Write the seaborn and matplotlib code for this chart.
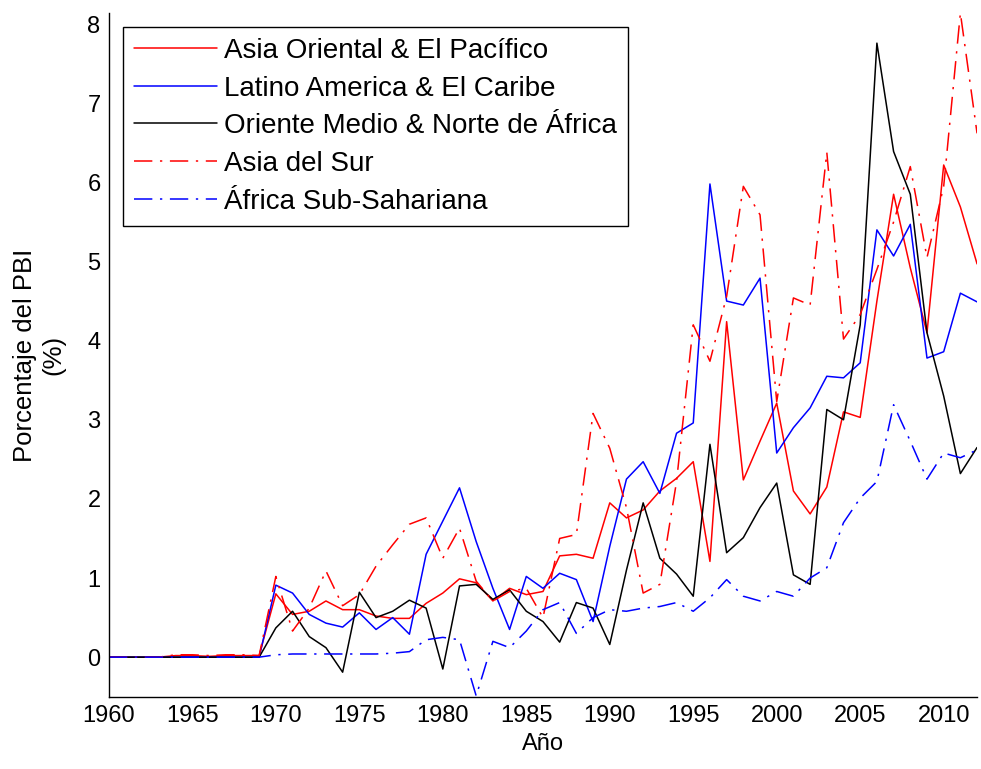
import numpy as np
import pandas as pd
import seaborn as sns
import matplotlib.pyplot as plt

sns.set_theme(style="white")
plt.rcParams['font.family'] = ['Liberation Sans', 'DejaVu Sans']
plt.rcParams['text.color'] = 'black'
plt.rcParams['axes.labelcolor'] = 'black'
plt.rcParams['xtick.color'] = 'black'
plt.rcParams['ytick.color'] = 'black'

years = list(range(1960, 2013))
regions = ['Asia Oriental & El Pacífico', 'Latino America & El Caribe',
           'Oriente Medio & Norte de África', 'Asia del Sur', 'África Sub-Sahariana']

asia_oriental = [0.0, 0.0, 0.0, 0.0, 0.02, 0.02, 0.01, 0.02, 0.02, 0.02,
                 0.8, 0.54, 0.58, 0.71, 0.6, 0.6, 0.52, 0.49, 0.49, 0.68,
                 0.81, 0.99, 0.94, 0.71, 0.87, 0.79, 0.83, 1.28, 1.3, 1.25,
                 1.95, 1.76, 1.86, 2.1, 2.26, 2.47, 1.21, 4.24, 2.24, 2.73,
                 3.21, 2.1, 1.81, 2.15, 3.1, 3.03, 4.5, 5.85, 4.92, 4.1,
                 6.22, 5.69, 4.97]
latino_america = [0.0, 0.0, 0.0, 0.0, 0.0, 0.0, 0.0, 0.0, 0.0, 0.0,
                  0.91, 0.81, 0.54, 0.43, 0.38, 0.56, 0.35, 0.5, 0.29, 1.3,
                  1.72, 2.14, 1.46, 0.87, 0.35, 1.02, 0.87, 1.06, 0.98, 0.45,
                  1.4, 2.25, 2.47, 2.07, 2.83, 2.96, 5.98, 4.5, 4.45, 4.79,
                  2.58, 2.9, 3.15, 3.55, 3.53, 3.72, 5.4, 5.07, 5.47, 3.78,
                  3.86, 4.6, 4.49]
oriente_medio = [0.0, 0.0, 0.0, 0.0, 0.0, 0.0, 0.0, 0.0, 0.0, 0.0,
                 0.37, 0.58, 0.26, 0.12, -0.19, 0.82, 0.5, 0.58, 0.72, 0.62,
                 -0.15, 0.9, 0.92, 0.73, 0.85, 0.58, 0.45, 0.19, 0.69, 0.62,
                 0.16, 1.1, 1.95, 1.25, 1.05, 0.77, 2.69, 1.32, 1.51, 1.89,
                 2.2, 1.04, 0.92, 3.13, 3.0, 4.2, 7.76, 6.39, 5.85, 4.1,
                 3.3, 2.32, 2.65]
asia_sur = [0.0, 0.0, 0.0, 0.0, 0.03, 0.03, 0.02, 0.03, 0.03, 0.02,
            1.02, 0.33, 0.62, 1.09, 0.65, 0.79, 1.15, 1.42, 1.68, 1.76,
            1.25, 1.63, 0.96, 0.71, 0.83, 0.87, 0.5, 1.5, 1.55, 3.08,
            2.64, 1.89, 0.81, 0.92, 2.22, 4.2, 3.74, 4.56, 5.95, 5.59,
            3.23, 4.54, 4.45, 6.38, 4.02, 4.33, 4.9, 5.5, 6.2, 5.05,
            5.95, 8.14, 6.62]
africa_sub = [0.0, 0.0, 0.0, 0.0, 0.0, 0.0, 0.0, 0.0, 0.0, 0.0,
              0.03, 0.04, 0.04, 0.04, 0.04, 0.04, 0.04, 0.05, 0.07, 0.22,
              0.25, 0.22, -0.49, 0.2, 0.12, 0.33, 0.6, 0.69, 0.3, 0.5,
              0.6, 0.58, 0.62, 0.64, 0.69, 0.58, 0.75, 0.98, 0.77, 0.71,
              0.83, 0.77, 1.0, 1.13, 1.7, 2.01, 2.22, 3.19, 2.73, 2.25,
              2.58, 2.52, 2.62]

series = [asia_oriental, latino_america, oriente_medio, asia_sur, africa_sub]
df = pd.concat([pd.DataFrame({'Año': years, 'valor': vals, 'region': reg})
                for reg, vals in zip(regions, series)], ignore_index=True)

colores = dict(zip(regions, ['#ff0000', '#0000ff', '#000000', '#ff0000', '#0000ff']))
dashdot = (12, 5, 1.5, 5)
estilos = dict(zip(regions, ['', '', '', dashdot, dashdot]))

fig, ax = plt.subplots(figsize=(9.81, 7.69), dpi=100)
fig.subplots_adjust(left=0.111, right=0.996, bottom=0.094, top=0.983)

sns.lineplot(data=df, x='Año', y='valor', hue='region', style='region',
             palette=colores, dashes=estilos, linewidth=1.1, ax=ax)

ax.set_xlim(1960, 2012)
ax.set_ylim(-0.5, 8.14)
ax.set_xticks(range(1960, 2011, 5))
ax.set_yticks(range(0, 9))
ax.tick_params(direction='in', length=7.5, width=0.8, labelsize=17, pad=6, color='black')
for s in ['top', 'right']:
    ax.spines[s].set_visible(False)
for s in ['left', 'bottom']:
    ax.spines[s].set_color('black')
    ax.spines[s].set_linewidth(1.0)

ax.set_xlabel('Año', fontsize=17, labelpad=4)
ax.set_ylabel('Porcentaje del PBI\n(%)', fontsize=18.5, labelpad=16)

handles, labels = ax.get_legend_handles_labels()
leg = ax.legend(handles, labels, loc='upper left', bbox_to_anchor=(0.016, 0.98),
                borderaxespad=0, fontsize=20, frameon=True, fancybox=False,
                edgecolor='black', framealpha=1, handlelength=3.0,
                handletextpad=0.25, labelspacing=0.42, borderpad=0.4)
leg.get_frame().set_linewidth(1.0)

plt.savefig('out.png', dpi=100)
